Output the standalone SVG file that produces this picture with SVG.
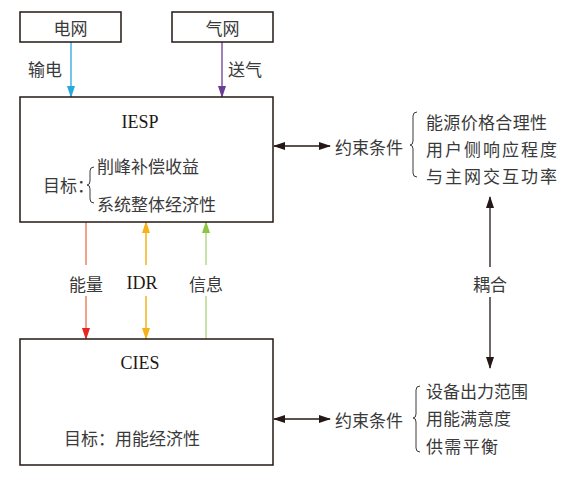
<svg xmlns="http://www.w3.org/2000/svg" width="583" height="478" viewBox="0 0 583 478">
<style>
.box{fill:#fff;stroke:#231815;stroke-width:1.5}
.cn{font-family:"Noto Sans CJK SC","Noto Sans",sans-serif;font-size:17px;fill:#3a3a3a;dominant-baseline:central}
.en{font-family:"Liberation Serif","Times New Roman",serif;font-size:18px;fill:#231815;dominant-baseline:central}
.br{fill:none;stroke:#3a3a3a;stroke-width:1}
.k{stroke:#231815;stroke-width:1.3;fill:none}
</style>
<defs>
<marker id="mk" markerWidth="12" markerHeight="8" refX="11" refY="4" orient="auto-start-reverse" markerUnits="userSpaceOnUse"><path d="M0,0 L12,4 L0,8 Z" fill="#231815"/></marker>
<marker id="mb" markerWidth="8" markerHeight="12" refX="4" refY="11" orient="0" markerUnits="userSpaceOnUse"><path d="M0,0 L8,0 L4,12 Z" fill="#29a8e0"/></marker>
<marker id="mp" markerWidth="8" markerHeight="12" refX="4" refY="11" orient="0" markerUnits="userSpaceOnUse"><path d="M0,0 L8,0 L4,12 Z" fill="#6a3d96"/></marker>
<marker id="mr" markerWidth="8" markerHeight="12" refX="4" refY="11" orient="0" markerUnits="userSpaceOnUse"><path d="M0,0 L8,0 L4,12 Z" fill="#e8251f"/></marker>
<marker id="myd" markerWidth="8" markerHeight="12" refX="4" refY="11" orient="0" markerUnits="userSpaceOnUse"><path d="M0,0 L8,0 L4,12 Z" fill="#f6b21b"/></marker>
<marker id="myu" markerWidth="8" markerHeight="12" refX="4" refY="1" orient="0" markerUnits="userSpaceOnUse"><path d="M0,12 L8,12 L4,0 Z" fill="#f6b21b"/></marker>
<marker id="mgu" markerWidth="8" markerHeight="12" refX="4" refY="1" orient="0" markerUnits="userSpaceOnUse"><path d="M0,12 L8,12 L4,0 Z" fill="#8cc63f"/></marker>
</defs>

<g id="connectors">
  <line x1="71" y1="42" x2="71" y2="97" stroke="#29a8e0" stroke-width="1.3" marker-end="url(#mb)"/>
  <line x1="222" y1="42" x2="222" y2="97" stroke="#6a3d96" stroke-width="1.3" marker-end="url(#mp)"/>
  <line x1="86" y1="222" x2="86" y2="265" stroke="#f08262" stroke-width="1.5"/>
  <line x1="86" y1="296" x2="86" y2="339" stroke="#f08262" stroke-width="1.5" marker-end="url(#mr)"/>
  <line x1="146" y1="265" x2="146" y2="222" stroke="#f6b21b" stroke-width="1.5" marker-end="url(#myu)"/>
  <line x1="146" y1="296" x2="146" y2="339" stroke="#f6b21b" stroke-width="1.5" marker-end="url(#myd)"/>
  <line x1="206" y1="265" x2="206" y2="222" stroke="#b7d98e" stroke-width="1.5" marker-end="url(#mgu)"/>
  <line x1="206" y1="296" x2="206" y2="339" stroke="#b7d98e" stroke-width="1.5"/>
  <line x1="274" y1="146" x2="330" y2="146" class="k" marker-start="url(#mk)" marker-end="url(#mk)"/>
  <line x1="274" y1="419" x2="330" y2="419" class="k" marker-start="url(#mk)" marker-end="url(#mk)"/>
  <line x1="490" y1="267" x2="490" y2="197" class="k" marker-end="url(#mk)"/>
  <line x1="490" y1="297" x2="490" y2="368" class="k" marker-end="url(#mk)"/>
  <text class="cn" x="28" y="68">输电</text>
  <text class="cn" x="228" y="68">送气</text>
  <text class="cn" x="86" y="283" text-anchor="middle">能量</text>
  <text class="en" x="142" y="283" text-anchor="middle">IDR</text>
  <text class="cn" x="206" y="283" text-anchor="middle">信息</text>
  <text class="cn" x="490" y="283" text-anchor="middle">耦合</text>
</g>

<g id="grid">
  <rect class="box" x="20" y="12" width="101" height="30"/>
  <text class="cn" x="70.5" y="27" text-anchor="middle">电网</text>
</g>
<g id="gas">
  <rect class="box" x="172" y="12" width="101" height="30"/>
  <text class="cn" x="222.5" y="27" text-anchor="middle">气网</text>
</g>

<g id="iesp">
  <rect class="box" x="20" y="97" width="253" height="125"/>
  <text class="en" x="140" y="122" text-anchor="middle">IESP</text>
  <text class="cn" x="43" y="184">目标：</text>
  <path class="br" d="M94,167 Q90,167 90,171 L90,181 Q90,185 87,185 Q90,185 90,189 L90,199 Q90,203 94,203"/>
  <text class="cn" x="97" y="165">削峰补偿收益</text>
  <text class="cn" x="97" y="203">系统整体经济性</text>
</g>

<g id="iesp-constraints">
  <text class="cn" x="335" y="146">约束条件</text>
  <path class="br" d="M417,112 Q413,112 413,116 L413,141 Q413,145 410,145 Q413,145 413,149 L413,173 Q413,177 417,177"/>
  <text class="cn" x="426" y="121" textLength="121">能源价格合理性</text>
  <text class="cn" x="426" y="148" textLength="131">用户侧响应程度</text>
  <text class="cn" x="426" y="175" textLength="131">与主网交互功率</text>
</g>

<g id="cies">
  <rect class="box" x="20" y="339" width="253" height="126"/>
  <text class="en" x="140" y="363" text-anchor="middle">CIES</text>
  <text class="cn" x="64" y="437">目标：用能经济性</text>
</g>

<g id="cies-constraints">
  <text class="cn" x="335" y="419">约束条件</text>
  <path class="br" d="M420,386 Q416,386 416,390 L416,414 Q416,418 413,418 Q416,418 416,422 L416,448 Q416,452 420,452"/>
  <text class="cn" x="426" y="390">设备出力范围</text>
  <text class="cn" x="426" y="417">用能满意度</text>
  <text class="cn" x="426" y="445" textLength="72">供需平衡</text>
</g>
</svg>
